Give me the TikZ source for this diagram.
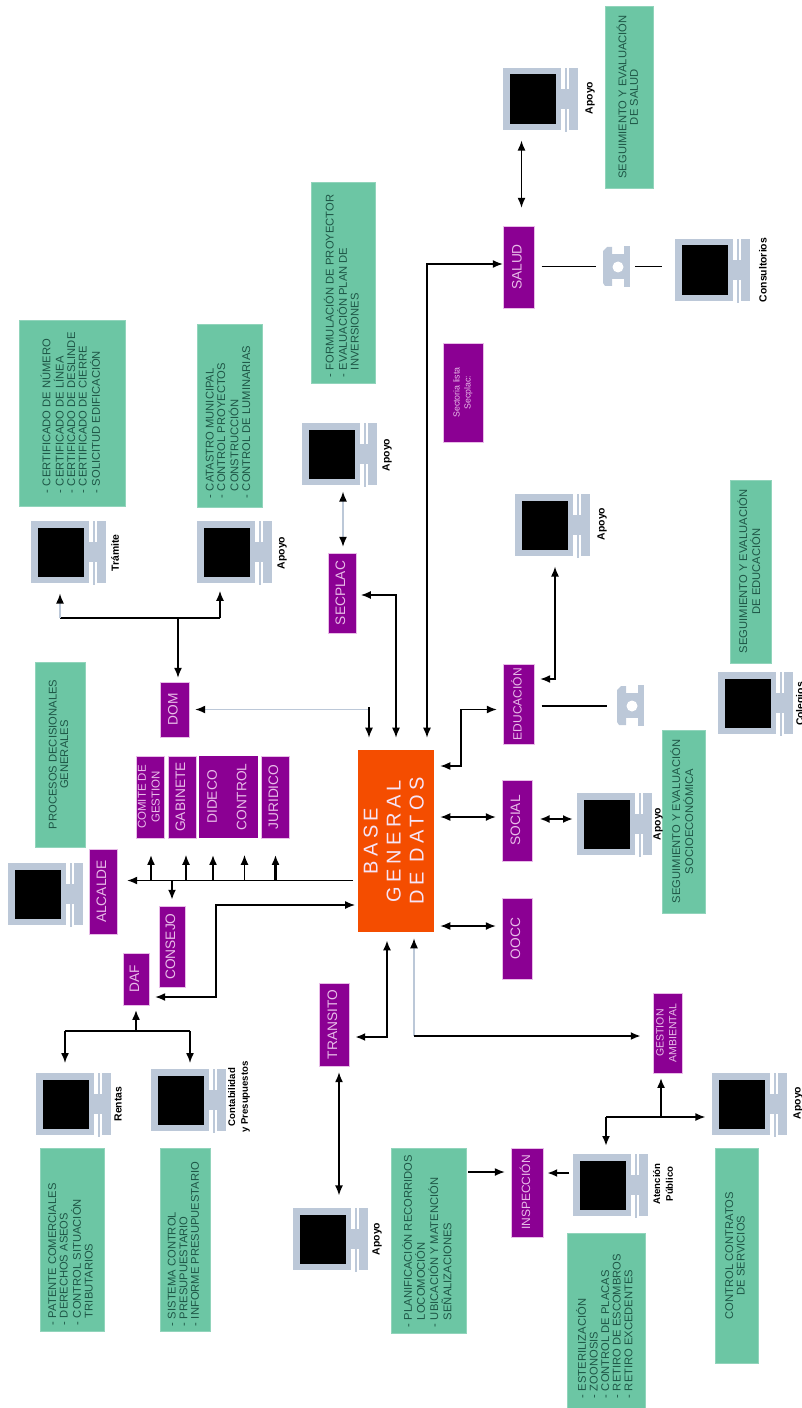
\documentclass[tikz,border=0pt]{standalone}
\usepackage{fontspec}
\usepackage{graphicx}
\setmainfont{Liberation Sans}
\newfontfamily\basefont[LetterSpace=22]{Liberation Sans}
\usetikzlibrary{arrows.meta,calc}
\definecolor{grnfill}{HTML}{6CC6A4}
\definecolor{grntext}{HTML}{1E5646}
\definecolor{purp}{HTML}{8B0093}
\definecolor{purptext}{HTML}{E8BCE8}
\definecolor{orng}{HTML}{F44D00}
\definecolor{mon}{HTML}{BCC8D8}
\newlength\px \setlength\px{0.75pt}
\tikzset{
  grn/.style={fill=grnfill,draw=grnfill!75!white,line width=0.4pt,inner sep=0pt,text=grntext,font=\fontsize{8.4}{8.7}\selectfont},
  pur/.style={fill=purp,draw=purptext,line width=0.3pt,inner sep=0pt,text=purptext,font=\fontsize{10.3}{12}\selectfont},
  lbl/.style={rotate=90,inner sep=0pt,font=\bfseries\fontsize{7.8}{9.2}\selectfont,align=center},
  conn/.style={draw=black,line width=1.1pt},
  thick line/.style={draw=black,line width=1.8pt},
  pale line/.style={draw=mon,line width=1.1pt},
  tip/.style={-{Latex[length=7.5pt,width=6pt,black]}},
  tips/.style={{Latex[length=7.5pt,width=6pt,black]}-{Latex[length=7.5pt,width=6pt,black]}},
}
% box with centred rotated lines: name x1 y1 x2 y2 style lines
\newcommand\cbox[7]{\node[#6,minimum width={(#4-#2)*0.75pt},minimum height={(#5-#3)*0.75pt}] (#1) at ({(#2+#4)/2},{(#3+#5)/2})
  {\rotatebox{90}{\begin{tabular}{@{}c@{}}#7\end{tabular}}};}
% green list box: name x1 y1 x2 y2 indent lines
\newcommand\gbox[7]{\node[grn,minimum width={(#4-#2)*0.75pt},minimum height={(#5-#3)*0.75pt}] (#1) at ({(#2+#4)/2},{(#3+#5)/2})
  {\rotatebox{90}{\makebox[\dimexpr#5\px-#3\px\relax][l]{\hspace*{#6\px}\begin{tabular}{@{}l@{}}#7\end{tabular}}}};}
\newcommand\dsh{\makebox[7\px][l]{-}}
\newcommand\nod{\hspace*{7\px}}
% computer: name x y
\newcommand\comp[3]{%
  \node[minimum width=56.25pt,minimum height=46.5pt,inner sep=0pt,anchor=north west] (#1) at (#2,#3) {};
  \begin{scope}[shift={(#2,#3)}]
    \fill[mon] (0,0) rectangle (58,62);
    \fill[mon] (58,21) rectangle (75,41);
    \fill[mon] (66,0) rectangle (75,62);
    \fill[mon] (62,0) rectangle (64,64);
    \fill[black] (6.5,6.5) rectangle (52.5,56);
  \end{scope}}
% telephone: name x y
\newcommand\phn[3]{%
  \node[minimum width=20.25pt,minimum height=30.75pt,inner sep=0pt,anchor=north west] (#1) at (#2,#3) {};
  \begin{scope}[shift={(#2,#3)}]
    \fill[mon] (21,0) rectangle (27,41);
    \fill[mon] (6,8) rectangle (21,33);
    \fill[mon] (0,5) -- (4,1) -- (9,1) -- (9,12) -- (6,12) -- (6,28) -- (9,28) -- (9,40) -- (2,40) -- (0,37) -- cycle;
    \fill[white] (15,21) circle (5.5);
  \end{scope}}
\begin{document}
\begin{tikzpicture}[x=0.75pt,y=-0.75pt]
\useasboundingbox (0,0) rectangle (802,1408);
% central
\node[fill=orng,minimum width=57pt,minimum height=136.5pt,inner sep=0pt,text=purptext!40!white] (base) at (396,841)
  {\rotatebox{90}{\fontsize{15}{17.2}\selectfont\basefont\begin{tabular}{@{}c@{}}BASE\\GENERAL\\DE DATOS\end{tabular}}};
% purple boxes
\cbox{secplac}{328}{553}{356}{633}{pur}{SECPLAC}
\cbox{dom}{160}{682}{189}{737}{pur}{DOM}
\cbox{comite}{136}{756}{164}{838}{pur,font=\fontsize{8.6}{10.2}\selectfont}{COMITE DE\\GESTION}
\cbox{gabinete}{168}{756}{196}{838}{pur}{GABINETE}
\cbox{dideco}{199}{756}{228.5}{838}{pur,draw=none}{DIDECO}
\cbox{control}{228.5}{756}{258}{838}{pur,draw=none}{CONTROL}
\cbox{juridico}{261}{756}{289}{838}{pur}{JURIDICO}
\cbox{alcalde}{89}{849}{117}{934}{pur}{ALCALDE}
\cbox{consejo}{159}{906}{185}{987}{pur}{CONSEJO}
\cbox{daf}{123}{953}{149}{1005}{pur}{DAF}
\cbox{transito}{319}{983}{349}{1066}{pur}{TRANSITO}
\cbox{salud}{503}{226}{534}{308}{pur}{SALUD}
\cbox{sector}{443}{343}{483}{442}{pur,font=\fontsize{6.6}{8.2}\selectfont}{Sectoria lista\\Secplac:}
\cbox{educ}{503}{664}{534}{744}{pur,font=\fontsize{9}{11}\selectfont}{EDUCACIÓN}
\cbox{social}{502}{780}{532}{861}{pur}{SOCIAL}
\cbox{oocc}{502}{898}{532}{979}{pur}{OOCC}
\cbox{gestion}{653}{993}{682}{1073}{pur,font=\fontsize{7.9}{9.6}\selectfont}{GESTION\\AMBIENTAL}
\cbox{insp}{511}{1148}{543}{1237}{pur,font=\fontsize{9}{11}\selectfont}{INSPECCIÓN}
% green boxes
\gbox{gcert}{19}{320}{125}{506}{13}{\dsh CERTIFICADO DE NÚMERO\\\dsh CERTIFICADO DE LÍNEA\\\dsh CERTIFICADO DE DESLINDE\\\dsh CERTIFICADO DE CIERRE\\\dsh SOLICITUD EDIFICACIÓN}
\gbox{gcat}{197}{324}{262}{507}{9}{\dsh CATASTRO MUNICIPAL\\\dsh CONTROL PROYECTOS\\\nod CONSTRUCCIÓN\\\dsh CONTROL DE LUMINARIAS}
\gbox{gform}{311}{182}{375}{383}{6}{\dsh FORMULACIÓN DE PROYECTOR\\\dsh EVALUACIÓN PLAN DE\\\nod INVERSIONES}
\cbox{gproc}{35}{662}{85}{847}{grn}{PROCESOS DECISIONALES\\GENERALES}
\cbox{gsalud}{605}{6}{653}{188}{grn}{SEGUIMIENTO Y EVALUACIÓN\\DE SALUD}
\cbox{gedu}{730}{480}{771}{663}{grn}{SEGUIMIENTO Y EVALUACIÓN\\DE EDUCACIÓN}
\cbox{gsoc}{662}{730}{705}{913}{grn}{SEGUIMIENTO Y EVALUACIÓN\\SOCIOECONÓMICA}
\gbox{gpat}{40}{1148}{104}{1331}{6}{\dsh PATENTE COMERCIALES\\\dsh DERECHOS ASEOS\\\dsh CONTROL SITUACIÓN\\\nod TRIBUTARIOS}
\gbox{gsis}{160}{1148}{210}{1331}{5}{\dsh SISTEMA CONTROL\\\dsh PRESUPUESTARIO\\\dsh INFORME PRESUPUESTARIO}
\gbox{gplan}{391}{1148}{466}{1333}{6}{\dsh PLANIFICACIÓN RECORRIDOS\\\nod LOCOMOCIÓN\\\dsh UBICACIÓN Y MATENCIÓN\\\nod SEÑALIZACIONES}
\gbox{gest}{567}{1233}{645}{1408}{10}{\dsh ESTERILIZACIÓN\\\dsh ZOONOSIS\\\dsh CONTROL DE PLACAS\\\dsh RETIRO DE ESCOMBROS\\\dsh RETIRO EXCEDENTES}
\cbox{gcon}{715}{1148}{758}{1363}{grn}{CONTROL CONTRATOS\\DE SERVICIOS}
% computers
\comp{ctram}{31}{521}
\comp{cdom}{197}{521}
\comp{csec}{302}{423}
\comp{calc}{8}{863}
\comp{cren}{36}{1073}
\comp{ccon}{151}{1069}
\comp{ctra}{293}{1208}
\comp{csal}{503}{68}
\comp{ccons}{675}{239}
\comp{cedu}{515}{494}
\comp{ccol}{718}{672}
\comp{csoc}{577}{793}
\comp{cgest}{712}{1073}
\comp{cate}{573}{1154}
\phn{ph1}{603}{246}
\phn{ph2}{617}{685}
% computer labels
\node[lbl] (l1) at (115,553) {Trámite};
\node[lbl] (l2) at (282,553) {Apoyo};
\node[lbl] (l3) at (387,455) {Apoyo};
\node[lbl] (l4) at (118,1104) {Rentas};
\node[lbl,font=\bfseries\fontsize{7.2}{9.4}\selectfont] (l5) at (239,1097) {Contabilidad\\y Presupuestos};
\node[lbl] (l6) at (377,1239) {Apoyo};
\node[lbl] (l7) at (590,98) {Apoyo};
\node[lbl] (l8) at (763,270) {Consultorios};
\node[lbl] (l9) at (602,524) {Apoyo};
\node[lbl] (l11) at (658,824) {Apoyo};
\node[lbl] (l12) at (798,1103) {Apoyo};
\node[lbl,font=\bfseries\fontsize{7.2}{9.6}\selectfont] (l13) at (663,1184) {Atención\\Público};
\node[lbl] (l14) at (801,704) {Colegios};
% bend coordinates
\coordinate (dl) at (60,618); \coordinate (dr) at (220,618); \coordinate (dj) at (178,618);
\coordinate (bj) at (369,707); \coordinate (bk) at (369,709.5);
\coordinate (sb) at (396,595);
\coordinate (sc) at (427,264);
\coordinate (e1) at (461,709.5); \coordinate (e2) at (461,766);
\coordinate (e3) at (555,679);
\coordinate (s1) at (470,817); \coordinate (s2) at (555,819); \coordinate (o1) at (470,926);
\coordinate (g1) at (414,1036);
\coordinate (b0) at (349,880.5);
\coordinate (t1) at (151,880.5); \coordinate (t2) at (186,880.5); \coordinate (t3) at (213,880.5); \coordinate (t4) at (244.5,880.5); \coordinate (t5) at (275.5,880.5); \coordinate (t6) at (172,880.5);
\coordinate (d1) at (216,905); \coordinate (d2) at (216,997);
\coordinate (f0) at (136,1031); \coordinate (f1) at (65,1031); \coordinate (f2) at (190,1031);
\coordinate (t0) at (387,1037);
\coordinate (tx) at (339,1100); \coordinate (sx) at (343,520); \coordinate (hx) at (521.5,170);
\coordinate (p1) at (570,266); \coordinate (p2) at (570,704); \coordinate (i1) at (490,1172); \coordinate (i2) at (560,1173);
\coordinate (h0) at (661,1117); \coordinate (h1) at (606,1117); \coordinate (h2) at (690,1117);
% DOM connectors
\draw[conn] (dl) -- (dr);
\draw[pale line,tip,shorten >=7.5pt] (dl) -- (dl |- ctram.south);
\draw[conn,tip,shorten >=5.5pt] (dr) -- (dr |- cdom.south);
\draw[conn,tip,shorten >=3pt] (dj) -- (dj |- dom.north);
\draw[pale line,tip,shorten >=4.5pt] (bk) -- (dom.east |- bk);
\draw[conn,tip,shorten >=9pt] (bj) -- (bj |- base.north);
% SECPLAC
\draw[conn,tips,shorten <=3.5pt,shorten >=9pt] (secplac.east |- sb) -- (sb) -- (sb |- base.north);
\draw[pale line,tips,shorten <=4.5pt,shorten >=4.5pt] (sx |- csec.south) -- (sx |- secplac.north);
% SALUD
\draw[conn,tips,shorten <=0pt,shorten >=9pt] (salud.west |- sc) -- (sc) -- (sc |- base.north);
\draw[conn,tips,shorten <=7.5pt,shorten >=13.5pt] (hx |- csal.south) -- (hx |- salud.north);
\draw[conn] ([xshift=5.5pt]salud.east |- ph1.west) -- ([xshift=-5.5pt]ph1.west);
\draw[conn] ([xshift=3.5pt]ph1.east) -- ([xshift=-9.5pt]ccons.west |- ph1.east);
% EDUCACION
\draw[conn,tips,shorten <=4.5pt,shorten >=4.5pt] (base.east |- e2) -- (e2) -- (e1) -- (educ.west |- e1);
\draw[conn,tips,shorten <=4.5pt,shorten >=7.5pt] (educ.east |- e3) -- (e3) -- (e3 |- cedu.south);
\draw[conn] ([xshift=5.5pt]educ.east |- ph2.west) -- ([xshift=-7.5pt]ph2.west);
% SOCIAL, OOCC
\draw[conn,tips,shorten <=4.5pt,shorten >=4.5pt] (base.east |- s1) -- (social.west |- s1);
\draw[thick line,tips,shorten <=5.5pt,shorten >=3pt] (social.east |- s2) -- (csoc.west |- s2);
\draw[conn,tips,shorten <=4.5pt,shorten >=4.5pt] (base.east |- o1) -- (oocc.west |- o1);
% GESTION
\draw[pale line,tip,shorten >=4.5pt] (g1) -- (g1 |- base.south);
\draw[thick line,tip,shorten >=9pt] (g1) -- (gestion.west |- g1);
% ALCALDE bus
\draw[conn,tip,shorten <=-3pt,shorten >=7.5pt] (b0) -- (alcalde.east |- b0);
\draw[thick line,tip,shorten >=12.5pt] (t1) -- (t1 |- comite.south);
\draw[conn,tip,shorten >=12.5pt] (t2) -- (t2 |- gabinete.south);
\draw[thick line,tip,shorten >=12.5pt] (t3) -- (t3 |- dideco.south);
\draw[conn,tip,shorten >=12.5pt] (t4) -- (t4 |- control.south);
\draw[thick line,tip,shorten >=12.5pt] (t5) -- (t5 |- juridico.south);
\draw[thick line,tip,shorten >=4.5pt] (t6) -- (t6 |- consejo.north);
% DAF
\draw[conn,tips,shorten <=4.5pt,shorten >=2pt] (daf.east |- d2) -- (d2) -- (d1) -- (base.west |- d1);
\draw[thick line,tip,shorten >=3.5pt] (f0) -- (f0 |- daf.south);
\draw[conn] (f1) -- (f2);
\draw[conn,tip,shorten >=7.5pt] (f1) -- (f1 |- cren.north);
\draw[conn,tip,shorten >=4.5pt] (f2) -- (f2 |- ccon.north);
% TRANSITO
\draw[thick line,tips,shorten <=4.5pt,shorten >=6pt] (transito.east |- t0) -- (t0) -- (t0 |- base.south);
\draw[conn,tips,shorten <=4.5pt,shorten >=9.5pt] (tx |- transito.south) -- (tx |- ctra.north);
% INSPECCION
\draw[conn,tip,shorten <=1.5pt,shorten >=4.5pt] (gplan.east |- i1) -- (insp.west |- i1);
\draw[thick line,tip,shorten <=3pt,shorten >=3pt] (cate.west |- i2) -- (insp.east |- i2);
\draw[conn] (h1) -- (h2);
\draw[thick line,tip,shorten >=3.5pt] (h0) -- (h0 |- gestion.south);
\draw[thick line,tip,shorten >=6pt] (h1) -- (h1 |- cate.north);
\draw[conn,tip,shorten >=5pt] (h2) -- (cgest.west |- h2);
\end{tikzpicture}
\end{document}
